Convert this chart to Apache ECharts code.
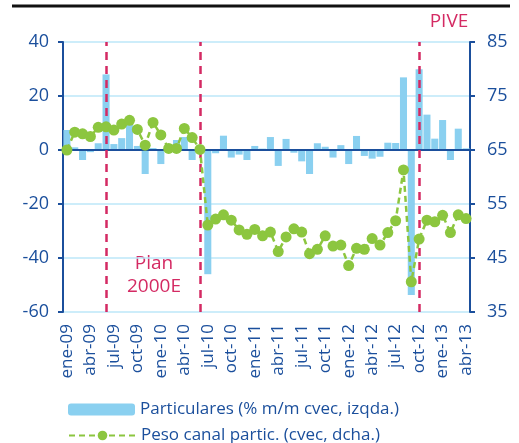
<!DOCTYPE html>
<html>
<head>
<meta charset="utf-8">
<script src="https://cdn.jsdelivr.net/npm/echarts@6/dist/echarts.min.js"></script>
<style>
  html, body { margin: 0; padding: 0; background: #fff; }
  #chart { width: 519px; height: 443px; }
</style>
</head>
<body>
<div id="chart"></div>
<script>
// meses ene-09 .. abr-13
const monthNames = ['ene', 'feb', 'mar', 'abr', 'may', 'jun', 'jul', 'ago', 'sep', 'oct', 'nov', 'dic']
const months = []
for (let y = 9; y <= 13; y++) {
  for (let m = 0; m < 12; m++) {
    if (y === 13 && m > 3) break
    months.push(monthNames[m] + '-' + (y < 10 ? '0' + y : y))
  }
}

// Particulares (% m/m cvec, izqda.)
const particulares = [7.4, 1, -3.7, -0.8, 2.5, 28, 2.2, 4.4, 9.3, 1.5, -8.9, 0.7,
  -5.2, 2, 3.7, 4.8, -3.7, -1, -46, -1.2, 5.3, -2.8, -1.7, -3.7,
  1.5, 0.5, 4.8, -5.9, 4.1, -1, -4.2, -8.9, 2.5, 1.2, -2.8, 1.8,
  -5.2, 5.2, -2.2, -3.2, -2.5, 2.7, 2.6, 26.9, -53.7, 29.9, 13.1, 4.2,
  11.1, -3.7, 7.9, 0.6]

// Peso canal partic. (cvec, dcha.)
const peso = [65, 68.3, 68.0, 67.5, 69.2, 69.3, 68.7, 69.8, 70.5, 68.8, 65.9, 70.1,
  67.8, 65.3, 65.3, 69.0, 67.3, 65.1, 51.1, 52.2, 53.0, 52.0, 50.2, 49.4,
  50.3, 49.1, 49.8, 46.2, 48.9, 50.4, 49.8, 45.8, 46.6, 49.1, 47.2, 47.4,
  43.6, 46.8, 46.6, 48.6, 47.4, 49.7, 51.9, 61.3, 40.6, 48.5, 52.0, 51.7,
  52.9, 49.7, 53.0, 52.3]

// medidas (Plan 2000E, PIVE)
const eventos = ['jun-09', 'jun-10', 'oct-12']

const azul = '#1b4f9c'
const celeste = '#8ad0f0'
const verde = '#8cc63f'
const carmin = '#d42a63'
const fuente = 'Open Sans'

const nombreBarras = 'Particulares (% m/m cvec, izqda.)'
const nombreLinea = 'Peso canal partic. (cvec, dcha.)'

const chart = echarts.init(document.getElementById('chart'))

// una leyenda por fila, para que no se parta en columnas
const leyenda = (nombre, top) => ({
  left: 63,
  top: top,
  itemWidth: 67,
  itemHeight: 12,
  textStyle: { color: azul, fontSize: 17, fontFamily: fuente },
  data: [nombre]
})

chart.setOption({
  animation: false,
  textStyle: { fontFamily: fuente },
  grid: { left: 63, right: 49, top: 42, bottom: 131 },
  legend: [leyenda(nombreBarras, 396), leyenda(nombreLinea, 422)],
  xAxis: [{
    type: 'category',
    data: months,
    axisLine: { show: false, onZero: false },
    axisTick: { show: false },
    axisLabel: {
      interval: 2,
      rotate: 90,
      margin: 12,
      color: azul,
      fontSize: 17,
      fontFamily: fuente
    }
  }, {
    type: 'category',
    data: months,
    position: 'bottom',
    z: 3,
    axisLine: { onZero: true, lineStyle: { color: azul, width: 2 } },
    axisTick: { interval: 2, length: 5, lineStyle: { color: azul, width: 2 } },
    axisLabel: { show: false }
  }],
  yAxis: [{
    type: 'value',
    min: -60,
    max: 40,
    interval: 20,
    axisLine: { show: true, lineStyle: { color: azul, width: 2 } },
    axisTick: { show: true, length: 5, lineStyle: { color: azul, width: 2 } },
    axisLabel: { margin: 14, color: azul, fontSize: 18, fontFamily: fuente },
    splitLine: { lineStyle: { color: '#bde7f8', width: 1.5 } }
  }, {
    type: 'value',
    min: 35,
    max: 85,
    alignTicks: true,
    axisLine: { show: true, lineStyle: { color: azul, width: 2 } },
    axisTick: { show: true, length: 5, lineStyle: { color: azul, width: 2 } },
    axisLabel: { margin: 17, color: azul, fontSize: 18, fontFamily: fuente },
    splitLine: { show: false }
  }],
  series: [{
    name: nombreBarras,
    type: 'bar',
    data: particulares,
    barCategoryGap: '10%',
    itemStyle: { color: celeste },
    z: 2,
    markLine: {
      silent: true,
      symbol: 'none',
      label: { show: false },
      lineStyle: { color: carmin, width: 2.5, type: [8, 6] },
      data: eventos.map(e => ({ xAxis: e }))
    }
  }, {
    name: nombreLinea,
    type: 'line',
    yAxisIndex: 1,
    data: peso,
    z: 5,
    symbol: 'circle',
    symbolSize: 11,
    showAllSymbol: true,
    itemStyle: { color: verde },
    lineStyle: { color: verde, width: 2.5, type: [6, 4] }
  }],
  graphic: [{
    type: 'line',
    shape: { x1: 12, y1: 6, x2: 510, y2: 6 },
    style: { stroke: '#111', lineWidth: 3 }
  }, {
    type: 'text',
    x: 154,
    y: 252,
    style: {
      text: 'Plan\n2000E',
      align: 'center',
      fill: carmin,
      font: '19px "Open Sans"',
      lineHeight: 23
    }
  }, {
    type: 'text',
    x: 449,
    y: 12,
    style: { text: 'PIVE', align: 'center', fill: carmin, font: '19px "Open Sans"' }
  }]
})
</script>
</body>
</html>
